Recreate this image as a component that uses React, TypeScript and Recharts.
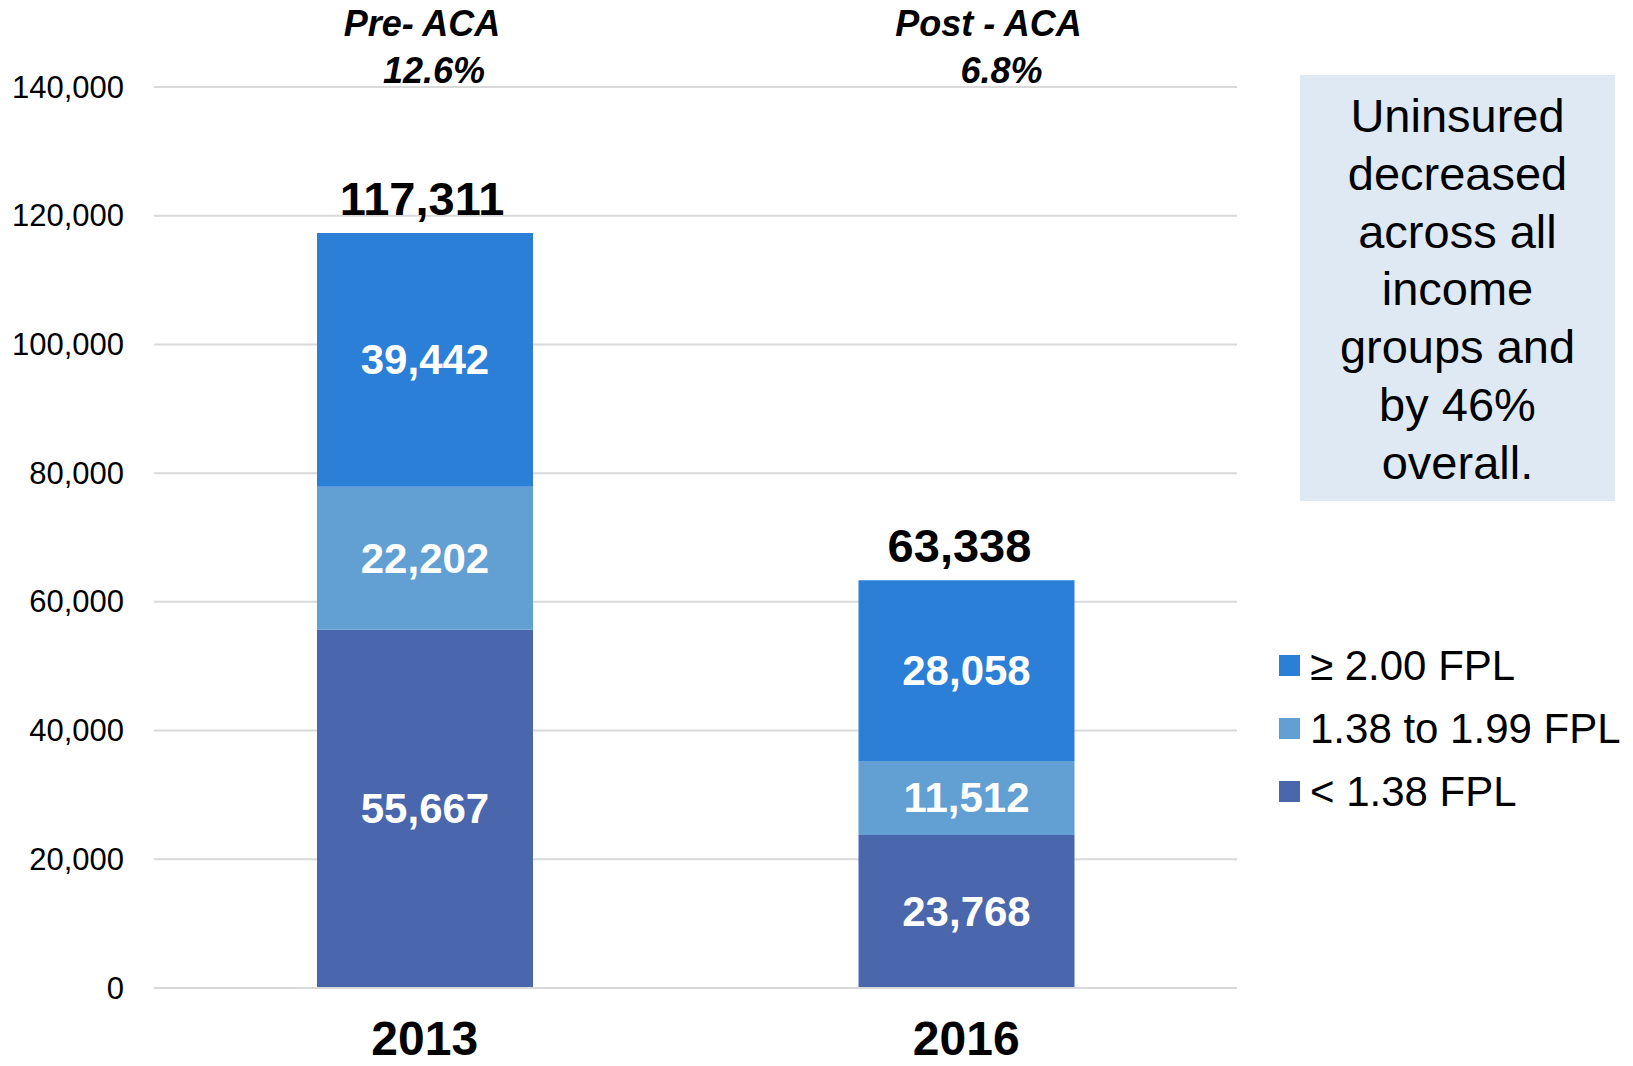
import React from 'react';
import { BarChart, Bar, XAxis, YAxis, CartesianGrid, LabelList } from 'recharts';

const categories = ['2013', '2016'];
const belowFpl138 = [55667, 23768];
const fpl138to199 = [22202, 11512];
const fplAbove200 = [39442, 28058];
const periodLabels = ['Pre- ACA', 'Post - ACA'];
const uninsuredRates = ['12.6%', '6.8%'];
const yTicks = [0, 20000, 40000, 60000, 80000, 100000, 120000, 140000];
const legendNames = ['≥ 2.00 FPL', '1.38 to 1.99 FPL', '< 1.38 FPL'];
const noteLines = ['Uninsured', 'decreased', 'across all', 'income', 'groups and', 'by 46%', 'overall.'];

const COLORS = { high: '#2B7FD7', mid: '#62A0D3', low: '#4A67AE' };
const FONT = '"Liberation Sans", Arial, Helvetica, sans-serif';

const chartData = categories.map((year, i) => ({
  year,
  low: belowFpl138[i],
  mid: fpl138to199[i],
  high: fplAbove200[i],
  total: belowFpl138[i] + fpl138to199[i] + fplAbove200[i],
  period: periodLabels[i],
  rate: uninsuredRates[i],
}));

const fmt = (v: number) => v.toLocaleString('en-US');

// header / total text sits a little off the bar centre in the original
const periodShift = [-3, 22];
const rateShift = [9, 35];
const totalShift = [-3, -7];

const TotalLabel = (props: any) => {
  const { viewBox, value } = props;
  if (!viewBox) return null;
  const i = chartData.findIndex((d) => d.total === value);
  const cx = viewBox.x + viewBox.width / 2 + (totalShift[i] || 0);
  return (
    <text x={cx} y={viewBox.y - 35} textAnchor="middle" dominantBaseline="central"
      fontSize={47} fontWeight="bold" fill="#000" fontFamily={FONT}>
      {fmt(value)}
    </text>
  );
};

const PeriodLabel = (props: any) => {
  const { viewBox, value } = props;
  if (!viewBox) return null;
  const i = periodLabels.indexOf(value);
  const cx = viewBox.x + viewBox.width / 2;
  return (
    <text x={cx + periodShift[i]} y={23} textAnchor="middle" dominantBaseline="central"
      fontSize={36} fontWeight="bold" fontStyle="italic" fill="#000" fontFamily={FONT}>
      {value}
    </text>
  );
};

const RateLabel = (props: any) => {
  const { viewBox, value } = props;
  if (!viewBox) return null;
  const i = uninsuredRates.indexOf(value);
  const cx = viewBox.x + viewBox.width / 2;
  return (
    <text x={cx + rateShift[i]} y={70} textAnchor="middle" dominantBaseline="central"
      fontSize={36} fontWeight="bold" fontStyle="italic" fill="#000" fontFamily={FONT}>
      {value}
    </text>
  );
};

const SegmentLabel = (props: any) => {
  const { viewBox, value } = props;
  if (!viewBox) return null;
  return (
    <text x={viewBox.x + viewBox.width / 2} y={viewBox.y + viewBox.height / 2}
      textAnchor="middle" dominantBaseline="central"
      fontSize={42} fontWeight="bold" fill="#fff" fontFamily={FONT}>
      {fmt(value)}
    </text>
  );
};

const YearTick = ({ x, y, payload }: any) => (
  <text x={x} y={y + 42} textAnchor="middle" dominantBaseline="central"
    fontSize={48} fontWeight="bold" fill="#000" fontFamily={FONT}>
    {payload.value}
  </text>
);

const ValueTick = ({ x, y, payload }: any) => (
  <text x={x} y={y} textAnchor="end" dominantBaseline="central"
    fontSize={31} fill="#000" fontFamily={FONT}>
    {fmt(payload.value)}
  </text>
);

export default function App() {
  const legendColors = [COLORS.high, COLORS.mid, COLORS.low];
  return (
    <div style={{ position: 'absolute', left: 0, top: 0, width: 1633, height: 1066, background: '#fff', fontFamily: FONT }}>
      <BarChart width={1633} height={1066} data={chartData}
        margin={{ top: 87, right: 396, bottom: 0, left: 0 }}>
        <CartesianGrid vertical={false} stroke="#D9D9D9" strokeWidth={2} />
        <XAxis dataKey="year" height={78} tickLine={false}
          axisLine={{ stroke: '#D9D9D9', strokeWidth: 2 }} tick={<YearTick />} />
        <YAxis width={154} domain={[0, 140000]} ticks={yTicks} tickLine={false}
          axisLine={false} tickMargin={24} tick={<ValueTick />} />
        <Bar dataKey="low" stackId="a" fill={COLORS.low} barSize={216} isAnimationActive={false}>
          <LabelList dataKey="low" content={<SegmentLabel />} />
        </Bar>
        <Bar dataKey="mid" stackId="a" fill={COLORS.mid} barSize={216} isAnimationActive={false}>
          <LabelList dataKey="mid" content={<SegmentLabel />} />
        </Bar>
        <Bar dataKey="high" stackId="a" fill={COLORS.high} barSize={216} isAnimationActive={false}>
          <LabelList dataKey="high" content={<SegmentLabel />} />
          <LabelList dataKey="total" content={<TotalLabel />} />
          <LabelList dataKey="period" content={<PeriodLabel />} />
          <LabelList dataKey="rate" content={<RateLabel />} />
        </Bar>
      </BarChart>

      <div style={{
        position: 'absolute', left: 1300, top: 75, width: 315, height: 426,
        background: '#DEE9F4', boxSizing: 'border-box', paddingTop: 12,
        textAlign: 'center', fontSize: 47, lineHeight: '57.8px', color: '#000',
      }}>
        {noteLines.map((l) => <div key={l}>{l}</div>)}
      </div>

      <div style={{ position: 'absolute', left: 1279, top: 634, color: '#000' }}>
        {legendNames.map((name, i) => (
          <div key={name} style={{ display: 'flex', alignItems: 'center', height: 63, fontSize: 42, whiteSpace: 'nowrap' }}>
            <span style={{ display: 'inline-block', width: 21, height: 21, background: legendColors[i], marginRight: 10 }} />
            {name}
          </div>
        ))}
      </div>
    </div>
  );
}
